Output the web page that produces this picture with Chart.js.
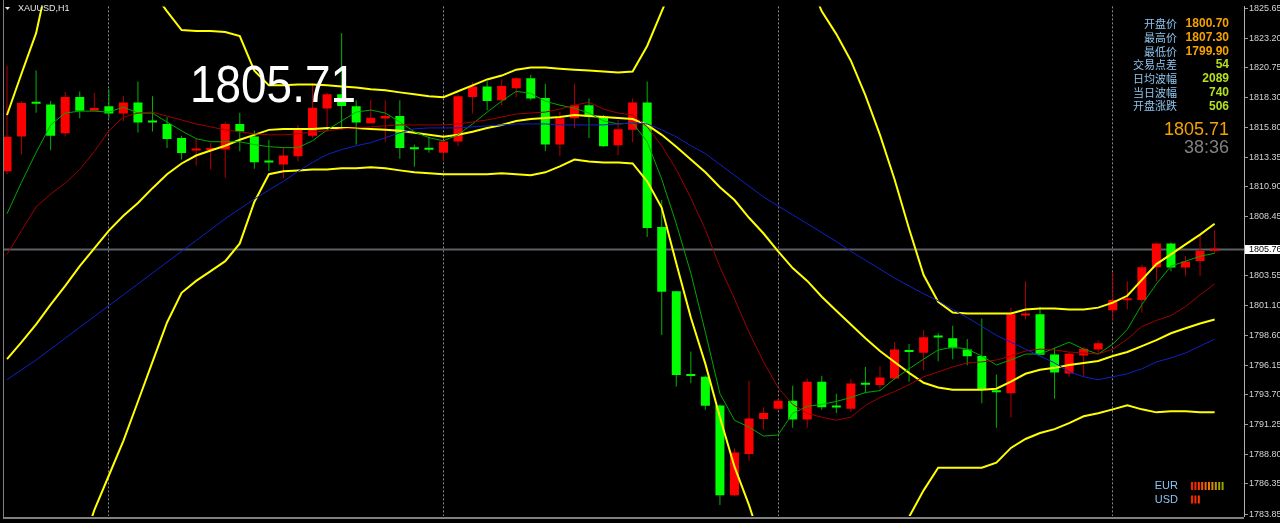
<!DOCTYPE html>
<html>
<head>
<meta charset="utf-8">
<title>XAUUSD,H1</title>
<script src="https://cdn.jsdelivr.net/npm/chart.js@4.4.1/dist/chart.umd.min.js"></script>
<style>
  html, body { margin: 0; padding: 0; background: #000; overflow: hidden; }
  #wrap { width: 1280px; height: 523px; }
</style>
</head>
<body>
<div id="wrap"><canvas id="chart" width="1280" height="523"></canvas></div>
<script>
// H1 candles (red = up, green = down)
const opens = [1812.19,1815.07,1817.82,1817.72,1815.35,1818.34,1817.20,1817.58,1816.98,1817.88,
  1816.26,1816.11,1814.94,1813.91,1813.95,1813.99,1816.11,1815.07,1812.97,1812.76,
  1813.44,1815.13,1817.39,1818.56,1817.58,1816.17,1816.56,1816.76,1814.06,1814.01,
  1813.72,1814.66,1818.34,1819.21,1818.07,1819.07,1819.89,1818.26,1814.40,1816.58,
  1817.66,1816.71,1814.34,1815.62,1817.88,1807.59,1802.28,1795.30,1795.20,1792.83,
  1785.40,1788.81,1791.72,1792.56,1793.22,1791.67,1794.80,1792.71,1792.56,1794.58,
  1794.52,1795.06,1797.30,1797.19,1798.49,1798.39,1797.46,1796.92,1793.97,1793.84,
  1800.27,1800.37,1797.05,1795.47,1796.97,1797.46,1800.70,1801.53,1801.55,1804.27,
  1806.23,1804.24,1804.78,1805.63];
const highs = [1820.93,1817.99,1820.52,1818.01,1818.75,1818.80,1818.67,1818.97,1818.42,1819.62,
  1818.40,1816.66,1815.13,1814.86,1814.53,1816.27,1817.03,1815.56,1814.80,1814.21,
  1816.03,1819.48,1818.72,1823.62,1818.07,1818.07,1818.07,1818.07,1814.40,1815.07,
  1814.72,1818.56,1819.57,1819.65,1819.78,1819.97,1820.17,1819.43,1817.11,1819.43,
  1818.21,1816.85,1816.44,1818.21,1819.62,1809.82,1802.31,1797.30,1795.28,1792.91,
  1789.30,1794.85,1792.69,1793.41,1794.47,1795.07,1795.28,1793.79,1795.01,1796.02,
  1796.10,1798.06,1797.92,1799.07,1798.80,1799.42,1798.33,1800.02,1795.39,1800.92,
  1803.10,1801.00,1797.60,1797.24,1797.65,1798.20,1803.83,1803.10,1804.46,1806.31,
  1806.31,1805.19,1806.90,1807.30];
const lows = [1811.95,1813.58,1817.03,1813.93,1815.07,1816.58,1817.17,1816.58,1816.36,1815.40,
  1815.48,1814.13,1813.17,1812.68,1812.35,1811.67,1813.85,1812.41,1812.21,1811.59,
  1813.03,1814.94,1815.48,1815.62,1814.40,1816.15,1814.64,1813.23,1812.57,1813.72,
  1813.03,1814.26,1816.98,1817.25,1817.66,1818.34,1818.07,1813.85,1813.44,1815.76,
  1814.94,1814.23,1813.52,1814.62,1806.77,1798.66,1794.39,1794.66,1792.48,1784.59,
  1785.32,1788.26,1790.85,1792.50,1790.98,1790.98,1792.48,1792.21,1792.29,1793.84,
  1794.16,1794.93,1794.80,1795.75,1796.48,1796.65,1796.16,1793.02,1790.98,1791.85,
  1799.96,1796.99,1793.38,1795.20,1795.20,1797.19,1799.90,1800.78,1800.51,1803.10,
  1803.92,1803.56,1803.56,1805.41];
const closes = [1815.05,1817.85,1817.78,1815.13,1818.34,1817.20,1817.42,1816.98,1817.88,1816.22,
  1816.22,1814.86,1813.71,1813.95,1814.01,1816.11,1815.48,1812.95,1812.93,1813.50,
  1815.62,1817.44,1818.56,1817.60,1816.22,1816.62,1816.76,1814.13,1814.02,1813.97,
  1814.66,1818.40,1819.21,1818.01,1819.24,1819.89,1818.21,1814.40,1816.58,1817.66,
  1816.71,1814.26,1815.68,1817.88,1807.51,1802.23,1795.34,1795.26,1792.81,1785.40,
  1788.94,1791.75,1792.21,1793.22,1791.67,1794.80,1792.69,1792.67,1794.65,1794.54,
  1795.14,1797.46,1797.26,1798.47,1798.45,1797.57,1796.89,1794.11,1793.93,1800.37,
  1800.31,1797.02,1795.55,1797.11,1797.51,1797.98,1801.55,1801.57,1804.27,1806.23,
  1804.24,1804.73,1805.63,1805.71];

// indicator lines at each candle
const maFast = [1808.68,1811.29,1813.74,1816.03,1817.01,1817.17,1817.17,1817.09,1817.50,1817.01,
  1817.01,1816.27,1815.54,1814.89,1814.64,1814.64,1814.64,1814.40,1814.23,1814.15,
  1814.15,1814.72,1815.62,1816.36,1817.09,1817.26,1817.01,1816.27,1815.46,1814.97,
  1814.72,1815.21,1816.11,1817.09,1817.99,1818.81,1818.64,1817.99,1817.66,1817.42,
  1817.01,1816.36,1816.11,1816.19,1814.64,1811.54,1807.86,1803.78,1798.88,1793.81,
  1791.61,1791.04,1790.30,1790.39,1792.18,1792.75,1792.92,1793.16,1793.49,1793.90,
  1794.06,1795.04,1795.86,1796.67,1797.41,1797.66,1797.49,1796.92,1796.18,1796.59,
  1797.08,1797.08,1797.57,1798.06,1797.49,1797.08,1797.90,1799.12,1801.17,1802.88,
  1804.35,1804.76,1805.17,1805.41];
const maMid = [1805.33,1807.29,1809.25,1810.31,1811.21,1812.35,1813.82,1815.54,1816.68,1817.01,
  1817.09,1816.76,1816.44,1816.11,1815.87,1815.62,1815.46,1815.29,1815.21,1815.21,
  1815.29,1815.46,1815.54,1815.70,1815.78,1815.87,1815.95,1816.03,1816.03,1816.03,
  1816.03,1816.11,1816.27,1816.44,1816.68,1816.93,1817.01,1817.09,1817.34,1817.66,
  1817.91,1817.34,1817.01,1816.85,1815.87,1814.31,1812.35,1809.99,1807.37,1804.27,
  1801.66,1798.88,1796.43,1794.31,1792.92,1792.18,1791.86,1791.61,1791.86,1792.84,
  1793.49,1793.98,1794.55,1795.20,1795.61,1796.02,1796.35,1796.43,1796.59,1796.92,
  1797.33,1797.49,1797.41,1797.25,1797.17,1797.08,1797.49,1798.31,1799.37,1799.86,
  1800.27,1801.00,1801.98,1802.88];
const maSlow = [1794.96,1795.78,1796.59,1797.49,1798.39,1799.29,1800.19,1801.08,1801.98,1802.88,
  1803.78,1804.68,1805.58,1806.47,1807.37,1808.27,1809.09,1809.90,1810.64,1811.37,
  1812.19,1812.93,1813.58,1813.99,1814.31,1814.56,1814.97,1815.38,1815.70,1815.78,
  1815.78,1815.78,1815.87,1815.95,1816.03,1816.11,1816.11,1816.11,1816.03,1816.03,
  1816.03,1816.03,1816.11,1816.19,1816.11,1815.62,1815.05,1814.31,1813.66,1812.76,
  1811.86,1810.97,1810.07,1809.33,1808.60,1807.86,1807.13,1806.39,1805.58,1804.84,
  1804.11,1803.37,1802.72,1802.06,1801.49,1800.76,1800.10,1799.37,1798.63,1798.06,
  1797.49,1796.92,1796.35,1795.61,1795.20,1794.96,1795.20,1795.45,1795.86,1796.43,
  1796.76,1797.17,1797.74,1798.31];
const bbMiddle = [1796.67,1798.06,1799.53,1801.17,1802.72,1804.35,1805.82,1807.29,1808.52,1809.58,
  1810.80,1811.95,1812.84,1813.50,1813.91,1814.31,1814.80,1815.21,1815.62,1815.70,
  1815.70,1815.70,1815.78,1815.78,1815.78,1815.70,1815.62,1815.54,1815.38,1815.21,
  1815.05,1815.21,1815.46,1815.78,1816.03,1816.36,1816.52,1816.60,1816.68,1816.85,
  1816.76,1816.68,1816.60,1816.52,1816.03,1815.21,1814.23,1813.17,1812.11,1810.88,
  1809.82,1808.35,1807.05,1805.58,1804.19,1803.13,1801.82,1800.67,1799.53,1798.39,
  1797.33,1796.43,1795.53,1794.71,1794.31,1794.14,1794.14,1794.14,1794.22,1794.80,
  1795.45,1795.78,1795.94,1796.18,1796.35,1796.51,1796.92,1797.25,1797.74,1798.23,
  1798.80,1799.21,1799.61,1799.94];
const bbUpper = [1816.85,1820.28,1823.62,1829.10,1830.73,1831.55,1831.55,1830.73,1829.91,1828.69,
  1827.06,1825.42,1823.87,1823.79,1823.79,1823.71,1823.38,1820.52,1819.30,1819.30,
  1819.38,1819.38,1819.30,1819.21,1819.13,1818.97,1818.89,1818.72,1818.56,1818.40,
  1818.32,1818.81,1819.30,1819.79,1820.11,1820.60,1820.77,1820.77,1820.68,1820.60,
  1820.52,1820.44,1820.36,1820.44,1822.56,1825.42,1828.28,1831.55,1834.00,1835.63,
  1836.45,1836.45,1835.63,1834.00,1830.73,1828.28,1825.42,1823.54,1821.34,1818.48,
  1815.21,1811.54,1807.45,1803.62,1801.41,1800.51,1800.43,1800.43,1800.43,1800.43,
  1800.76,1800.84,1800.84,1800.76,1800.76,1800.92,1801.33,1801.90,1803.21,1804.52,
  1805.33,1806.15,1806.96,1807.86];
const bbLower = [1776.83,1776.01,1775.60,1776.01,1777.65,1780.50,1784.18,1787.04,1789.90,1793.16,
  1796.43,1799.69,1802.15,1803.13,1803.94,1804.76,1806.23,1809.66,1811.95,1812.19,
  1812.27,1812.35,1812.35,1812.44,1812.44,1812.52,1812.44,1812.27,1812.11,1812.03,
  1811.95,1811.95,1811.95,1811.95,1812.03,1811.95,1811.86,1812.11,1812.60,1813.17,
  1813.01,1812.93,1812.93,1812.84,1811.37,1809.17,1804.60,1800.10,1796.27,1791.86,
  1787.77,1784.59,1780.91,1778.46,1776.83,1776.01,1776.01,1776.83,1777.65,1778.46,
  1779.69,1781.32,1783.61,1785.81,1787.69,1787.69,1787.69,1787.69,1788.10,1789.32,
  1790.06,1790.55,1790.87,1791.37,1791.94,1792.18,1792.51,1792.84,1792.51,1792.26,
  1792.35,1792.35,1792.26,1792.26];

// axis labels and panel texts
const priceTicks = [1825.65,1823.20,1820.75,1818.30,1815.80,1813.35,1810.90,1808.45,
  1803.55,1801.10,1798.60,1796.15,1793.70,1791.25,1788.80,1786.35,1783.85];
const daySeparators = [7, 30, 53, 76];
const bidPrice = 1805.76;
const lastPrice = '1805.71';
const symbol = 'XAUUSD,H1';
const infoLabels = ['开盘价','最高价','最低价','交易点差','日均波幅','当日波幅','开盘涨跌'];
const infoValues = ['1800.70','1807.30','1799.90','54','2089','740','506'];
const barTimer = '38:36';
const currencies = ['EUR','USD'];
const strength = [10, 3];

const idx = opens.map((_, i) => i);
const up = idx.map(i => closes[i] >= opens[i]);
const pts = arr => arr.map((v, i) => ({x: i, y: v}));

const overlay = {
  id: 'mt4overlay',
  beforeDatasetsDraw(chart) {
    const {ctx, chartArea: a} = chart;
    const py = Math.round(chart.scales.y.getPixelForValue(bidPrice)) + 0.5;
    ctx.save();
    ctx.strokeStyle = '#5d6167';
    ctx.lineWidth = 2;
    ctx.beginPath();
    ctx.moveTo(a.left, py);
    ctx.lineTo(a.right, py);
    ctx.stroke();
    ctx.restore();
  },
  afterDatasetsDraw(chart) {
    const ctx = chart.ctx;
    ctx.save();
    ctx.fillStyle = '#ffffff';
    ctx.font = '52px "Liberation Sans", Arial, sans-serif';
    ctx.textBaseline = 'alphabetic';
    ctx.textAlign = 'left';
    ctx.fillText(lastPrice, 190, 102, 166);
    ctx.restore();
  },
  afterDraw(chart) {
    const {ctx, chartArea: a} = chart;
    ctx.save();
    // frame
    ctx.fillStyle = '#808080';
    ctx.fillRect(a.left - 1, 0, 1, a.bottom + 1);
    ctx.fillRect(a.left - 1, a.bottom + 1, a.right - a.left + 1, 2);

    // symbol caption
    ctx.fillStyle = '#e8e8e8';
    ctx.beginPath();
    ctx.moveTo(5, 7); ctx.lineTo(10, 7); ctx.lineTo(7.5, 10);
    ctx.closePath();
    ctx.fill();
    ctx.font = '9px "Liberation Sans", Arial';
    ctx.textBaseline = 'middle';
    ctx.textAlign = 'left';
    ctx.fillText(symbol, 18, 9);

    // info panel
    infoLabels.forEach((t, i) => {
      const yy = 24 + i * 13.7;
      ctx.textAlign = 'right';
      ctx.font = '11px "Noto Sans CJK SC"';
      ctx.fillStyle = '#8ec4ee';
      ctx.fillText(t, 1177, yy);
      ctx.font = 'bold 12px "Liberation Sans", Arial';
      ctx.fillStyle = i < 3 ? '#f5a200' : '#b4e11e';
      ctx.fillText(infoValues[i], 1229, yy);
    });
    ctx.font = '18px "Liberation Sans", Arial';
    ctx.fillStyle = '#f5a200';
    ctx.fillText(lastPrice, 1229, 130);
    ctx.fillStyle = '#808080';
    ctx.fillText(barTimer, 1229, 148);

    // currency strength
    const cols = ['#ff1e00','#ff2800','#ff3c00','#ff5000','#f56400','#eb7800','#dc8c00','#c89600','#aaa000','#8ca500'];
    currencies.forEach((c, r) => {
      const yy = 486 + r * 13.5;
      ctx.font = '11px "Liberation Sans", Arial';
      ctx.fillStyle = '#8ec4ee';
      ctx.textAlign = 'right';
      ctx.fillText(c, 1178, yy);
      for (let k = 0; k < strength[r]; k++) {
        ctx.fillStyle = cols[k];
        ctx.fillRect(1191 + k * 3.4, yy - 4, 2, 8);
      }
    });

    // bid price box on the axis
    const py = Math.round(chart.scales.y.getPixelForValue(bidPrice));
    ctx.fillStyle = '#ffffff';
    ctx.fillRect(a.right + 1, py - 4, 36, 9);
    ctx.fillStyle = '#000000';
    ctx.font = '9px "Liberation Sans", Arial';
    ctx.textAlign = 'left';
    ctx.fillText(bidPrice.toFixed(2), a.right + 5, py + 0.5);
    ctx.restore();
  }
};

const line = (data, color, width) => ({
  type: 'line', data: pts(data), borderColor: color, borderWidth: width,
  pointRadius: 0, tension: 0, fill: false, order: 0
});

new Chart(document.getElementById('chart'), {
  type: 'bar',
  data: {
    datasets: [
      line(maSlow, '#1020c8', 1),
      line(maMid, '#a00000', 1),
      line(maFast, '#00a800', 1),
      line(bbUpper, '#ffff00', 2),
      line(bbMiddle, '#ffff00', 2),
      line(bbLower, '#ffff00', 2),
      {
        type: 'bar', data: idx.map(i => ({x: i, y: [opens[i], closes[i]]})),
        backgroundColor: up.map(u => u ? '#ff0000' : '#00ff00'),
        barThickness: 9, minBarLength: 2, grouped: false, inflateAmount: 0, order: 2
      },
      {
        type: 'bar', data: idx.map(i => ({x: i, y: [lows[i], highs[i]]})),
        backgroundColor: up.map(u => u ? '#b40000' : '#00b400'),
        barThickness: 1, grouped: false, inflateAmount: 0, order: 3
      }
    ]
  },
  options: {
    responsive: false,
    animation: false,
    devicePixelRatio: 1,
    events: [],
    layout: { padding: { left: 4, right: 0, top: 0, bottom: 7 } },
    plugins: { legend: { display: false }, tooltip: { enabled: false } },
    scales: {
      x: {
        type: 'linear', min: -0.206, max: 85.02, offset: false,
        afterFit: s => { s.height = 0; },
        afterBuildTicks: s => { s.ticks = daySeparators.map(v => ({value: v})); },
        ticks: { display: false },
        grid: { color: '#8a8a8a', lineWidth: 1, drawTicks: false, offset: false },
        border: { display: false, dash: [2, 2] }
      },
      y: {
        type: 'linear', position: 'right', min: 1783.69, max: 1825.83,
        afterFit: s => { s.width = 36; },
        afterBuildTicks: s => { s.ticks = priceTicks.map(v => ({value: v})); },
        ticks: {
          autoSkip: false, padding: 1, color: '#d4d4d4',
          font: { family: '"Liberation Sans", Arial', size: 9 },
          callback: v => Number(v).toFixed(2)
        },
        grid: { drawOnChartArea: false, drawTicks: true, tickLength: 4, color: '#9a9a9a' },
        border: { display: true, color: '#b0b0b0', width: 1 }
      }
    }
  },
  plugins: [overlay]
});
</script>
</body>
</html>
